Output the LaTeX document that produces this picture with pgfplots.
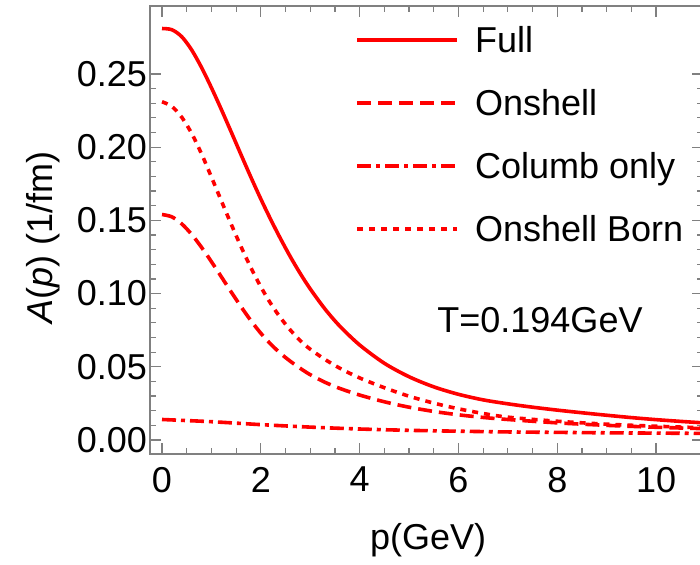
\documentclass[border=0pt]{standalone}
\usepackage{fontspec}
\setmainfont{Liberation Sans}
\usepackage{pgfplots}
\usepackage{pgfplotstable}
\pgfplotsset{compat=1.18}

% A(p) versus p at T = 0.194 GeV
\pgfplotstableread{
p A
0.0 0.2810
0.2 0.2802
0.4 0.2754
0.6 0.2664
0.8 0.2544
1.0 0.2406
1.2 0.2258
1.4 0.2104
1.6 0.1948
1.8 0.1794
2.0 0.1646
2.2 0.1506
2.4 0.1374
2.6 0.1250
2.8 0.1136
3.0 0.1032
3.3 0.0894
3.6 0.0777
4.0 0.0649
4.5 0.0524
5.0 0.0432
5.5 0.0363
6.0 0.0312
6.5 0.0274
7.0 0.0247
7.5 0.0224
8.0 0.0204
8.5 0.0186
9.0 0.0169
9.5 0.0153
10.0 0.0139
10.5 0.0127
11.0 0.0116
}\full

\pgfplotstableread{
p A
0.0 0.1540
0.2 0.1524
0.4 0.1476
0.6 0.1404
0.8 0.1316
1.0 0.1218
1.2 0.1115
1.4 0.1011
1.6 0.0910
1.8 0.0815
2.0 0.0729
2.2 0.0655
2.4 0.0591
2.6 0.0537
2.8 0.0489
3.0 0.0446
3.3 0.0394
3.6 0.0352
4.0 0.0307
4.5 0.0261
5.0 0.0224
5.5 0.0195
6.0 0.0172
6.5 0.0154
7.0 0.0140
8.0 0.0117
9.0 0.0100
10.0 0.0087
11.0 0.0077
}\onshell

\pgfplotstableread{
p A
0.0 0.0140
1.0 0.0125
2.0 0.0105
3.0 0.0088
4.0 0.0075
5.0 0.0066
6.0 0.0060
7.0 0.0055
8.0 0.0052
9.0 0.0049
10.0 0.0047
11.0 0.0045
}\coulomb

\pgfplotstableread{
p A
0.0 0.2310
0.2 0.2278
0.4 0.2204
0.6 0.2094
0.8 0.1954
1.0 0.1796
1.2 0.1634
1.4 0.1474
1.6 0.1320
1.8 0.1176
2.0 0.1046
2.2 0.0932
2.4 0.0834
2.6 0.0750
2.8 0.0678
3.0 0.0620
3.3 0.0550
3.6 0.0490
4.0 0.0424
4.5 0.0357
5.0 0.0299
5.5 0.0252
6.0 0.0213
6.5 0.0181
7.0 0.0156
8.0 0.0128
9.0 0.0108
10.0 0.0094
11.0 0.0083
}\born

\begin{document}
\begin{tikzpicture}
\begin{axis}[
  at={(75pt,55.5pt)}, anchor=south west,
  scale only axis, width=276.5pt, height=224pt,
  xmin=-0.243, xmax=10.95, ymin=-0.00956, ymax=0.2964,
  axis line style={gray, line width=0.6pt},
  every tick/.style={gray, line width=0.6pt},
  major tick length=5.5pt, minor tick length=3pt,
  tick align=inside,
  xtick={0,2,4,6,8,10}, minor x tick num=3,
  ytick={0,0.05,0.1,0.15,0.2,0.25}, minor y tick num=4,
  scaled y ticks=false,
  /pgf/number format/assume math mode=true,
  ticklabel style={font=\fontsize{18}{21}\selectfont, black},
  yticklabel style={/pgf/number format/.cd, fixed, fixed zerofill, precision=2, /tikz/.cd, xshift=2pt},
  xticklabel style={yshift=-3pt},
  xlabel={p(GeV)},
  ylabel={\textit{A}(\textit{p}) (1/fm)},
  label style={font=\fontsize{18}{21}\selectfont, black},
  xlabel style={at={(axis description cs:0.503,-0.192)}, anchor=center},
  ylabel style={at={(axis description cs:-0.1935,0.484)}, anchor=center},
  legend cell align=left,
  legend image code/.code={\draw[#1] (0pt,0pt) -- (50pt,0pt);},
  legend style={at={(axis cs:3.907,0.2842)}, anchor=north west,
    draw=none, fill=none, inner sep=0pt,
    font=\fontsize{18}{21}\selectfont,
    nodes={inner sep=0pt, text height=14pt, text depth=2pt},
    row sep=15.5pt,
    /tikz/every odd column/.append style={column sep=8pt}},
  every axis plot/.append style={red, line width=1.8pt, smooth, no markers},
]
\addplot[solid] table[x=p, y=A] {\full};
\addlegendentry{Full}
\addplot[dash pattern=on 7pt off 3.5pt] table[x=p, y=A] {\onshell};
\addlegendentry{Onshell}
\addplot[dash pattern=on 7pt off 2.5pt on 2pt off 2.5pt] table[x=p, y=A] {\coulomb};
\addlegendentry{Columb only}
\addplot[dash pattern=on 3pt off 3pt] table[x=p, y=A] {\born};
\addlegendentry{Onshell Born}
\node[font=\fontsize{18}{21}\selectfont, black] at (axis cs:7.65,0.082) {T=0.194GeV};
\end{axis}
\pgfresetboundingbox
\useasboundingbox (0,0) rectangle (350pt,282.5pt);
\end{tikzpicture}
\end{document}
